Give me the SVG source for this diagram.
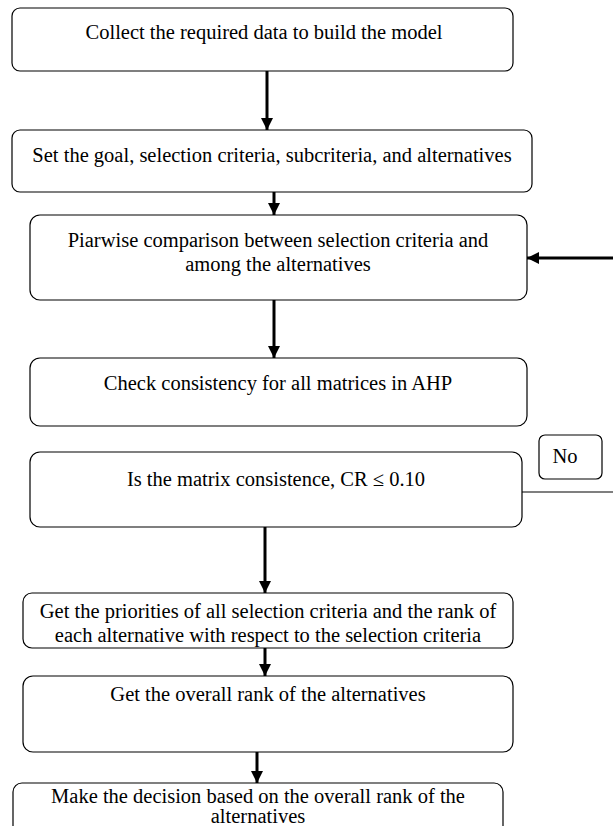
<svg xmlns="http://www.w3.org/2000/svg" width="613" height="826" viewBox="0 0 613 826">
  <defs>
    <marker id="arrow" viewBox="0 0 10 10" refX="10" refY="5" markerWidth="4" markerHeight="4" markerUnits="strokeWidth" orient="auto">
      <path d="M0,0 L10,5 L0,10 z" fill="#000"/>
    </marker>
    <style>
      .box { fill: #fff; stroke: #000; stroke-width: 1.2; }
      .lbl { font-family: "Liberation Serif", "Times New Roman", serif; font-size: 20.5px; fill: #000; text-anchor: middle; }
      .flow { stroke: #000; stroke-width: 3; fill: none; }
      .thin { stroke: #000; stroke-width: 1.2; fill: none; }
    </style>
  </defs>
  <rect width="613" height="826" fill="#fff"/>

  <g id="connectors">
    <line class="flow" x1="267" y1="71" x2="267" y2="130" marker-end="url(#arrow)"/>
    <line class="flow" x1="274" y1="192" x2="274" y2="215" marker-end="url(#arrow)"/>
    <line class="flow" x1="274" y1="300" x2="274" y2="358" marker-end="url(#arrow)"/>
    <line class="flow" x1="613" y1="258" x2="527" y2="258" marker-end="url(#arrow)"/>
    <line class="thin" x1="522" y1="492" x2="613" y2="492"/>
    <line class="flow" x1="265" y1="527" x2="265" y2="593" marker-end="url(#arrow)"/>
    <line class="flow" x1="265" y1="648" x2="265" y2="676" marker-end="url(#arrow)"/>
    <line class="flow" x1="257" y1="752" x2="257" y2="783" marker-end="url(#arrow)"/>
  </g>

  <g id="collect">
    <rect class="box" x="12" y="8" width="501" height="63" rx="8"/>
    <text class="lbl" x="264" y="39">Collect the required data to build the model</text>
  </g>
  <g id="set-goal">
    <rect class="box" x="12" y="130" width="520" height="62" rx="8"/>
    <text class="lbl" x="272" y="162">Set the goal, selection criteria, subcriteria, and alternatives</text>
  </g>
  <g id="pairwise">
    <rect class="box" x="30" y="215" width="497" height="85" rx="10"/>
    <text class="lbl" x="278" y="247">Piarwise comparison between selection criteria and</text>
    <text class="lbl" x="278" y="271">among the alternatives</text>
  </g>
  <g id="check">
    <rect class="box" x="30" y="358" width="497" height="68" rx="10"/>
    <text class="lbl" x="278" y="390">Check consistency for all matrices in AHP</text>
  </g>
  <g id="consistent">
    <rect class="box" x="30" y="452" width="492" height="75" rx="10"/>
    <text class="lbl" x="276" y="486">Is the matrix consistence, CR ≤ 0.10</text>
  </g>
  <g id="no-label">
    <rect class="box" x="539" y="435" width="63" height="44" rx="6"/>
    <text class="lbl" x="565" y="463">No</text>
  </g>
  <g id="priorities">
    <rect class="box" x="23" y="593" width="490" height="55" rx="9"/>
    <text class="lbl" x="268" y="618">Get the priorities of all selection criteria and the rank of</text>
    <text class="lbl" x="268" y="642">each alternative with respect to the selection criteria</text>
  </g>
  <g id="overall-rank">
    <rect class="box" x="23" y="676" width="490" height="76" rx="10"/>
    <text class="lbl" x="268" y="701">Get the overall rank of the alternatives</text>
  </g>
  <g id="decision">
    <rect class="box" x="13" y="783" width="490" height="60" rx="9"/>
    <text class="lbl" x="258" y="803">Make the decision based on the overall rank of the</text>
    <text class="lbl" x="258" y="823">alternatives</text>
  </g>
</svg>
